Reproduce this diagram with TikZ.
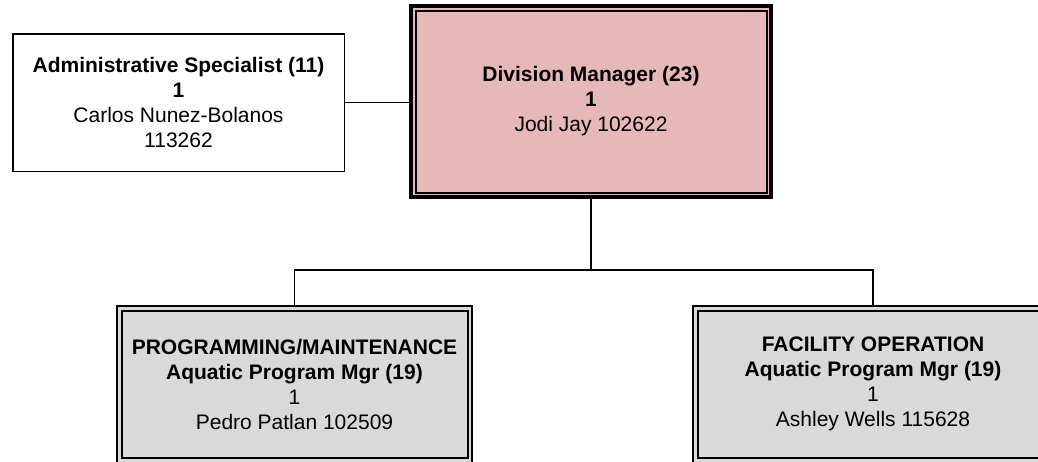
\documentclass[tikz,border=0pt]{standalone}
\usepackage{fontspec}
\setmainfont{Liberation Sans}
\definecolor{mgrpink}{HTML}{E6B8B7}
\definecolor{unitgray}{HTML}{D9D9D9}

\begin{document}
\begin{tikzpicture}[x=1pt, y=-1pt, line width=1.5pt,
	font=\fontsize{21}{25}\selectfont,
	box/.style={draw, align=center, inner sep=0pt, outer sep=0pt},
	inner frame/.style={path picture={\draw[line width=2pt] ([xshift=#1,yshift=-#1]path picture bounding box.north west) rectangle ([xshift=-#1,yshift=#1]path picture bounding box.south east);}}]
\useasboundingbox (0,0) rectangle (1038,461);
\node[box, fill=white, minimum width=331.5pt, minimum height=137.5pt] (admin) at (178.5,102.5) {\textbf{Administrative Specialist (11)}\\\textbf{1}\\Carlos Nunez-Bolanos\\113262};
\node[box, fill=mgrpink, line width=4pt, inner frame=4.5pt, minimum width=360pt, minimum height=191pt] (dm) at (591,101.5) {\textbf{Division Manager (23)}\\\textbf{1}\\Jodi Jay 102622};
\node[box, fill=unitgray, line width=2pt, inner frame=4.5pt, minimum width=355pt, minimum height=156.5pt] (pm) at (294.5,384.25) {\textbf{PROGRAMMING/MAINTENANCE}\\\textbf{Aquatic Program Mgr (19)}\\1\\Pedro Patlan 102509};
\node[box, fill=unitgray, line width=2pt, inner frame=4.5pt, minimum width=360pt, minimum height=156.5pt] (fo) at (873,384.25) {\textbf{FACILITY OPERATION}\\\textbf{Aquatic Program Mgr (19)}\\1\\Ashley Wells 115628};
\coordinate (bus) at (0,270);
	\draw (admin.east) -- (admin.east -| dm.west);
	\draw (dm.south) |- (bus -| pm.north) -- (pm.north);
	\draw (dm.south) |- (bus -| fo.north) -- (fo.north);
\end{tikzpicture}
\end{document}
